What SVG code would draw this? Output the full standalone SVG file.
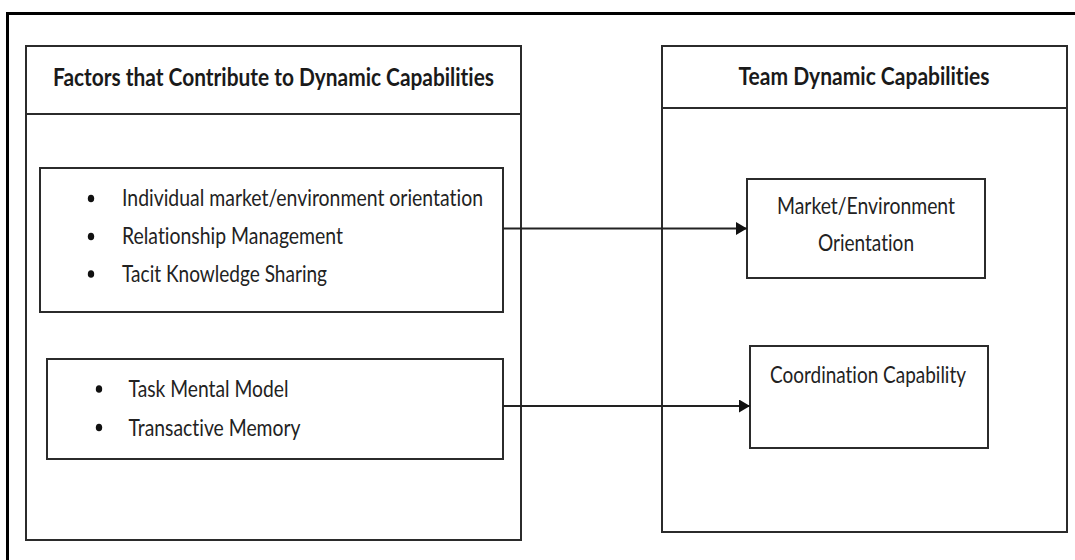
<svg xmlns="http://www.w3.org/2000/svg" width="1075" height="560" viewBox="0 0 1075 560">
  <style>
    .frame { fill: none; stroke: #000; stroke-width: 3; }
    .box { fill: #fff; stroke: #2b2b2b; stroke-width: 2; }
    .rule { stroke: #2b2b2b; stroke-width: 2; }
    .head { font-family: Lato, "Open Sans", sans-serif; font-weight: bold; font-size: 24px; fill: #1a1a1a; font-variant-ligatures: none; }
    .txt { font-family: Lato, "Open Sans", sans-serif; font-size: 22.5px; fill: #222; font-variant-ligatures: none; }
    .dot { fill: #111; }
    .link { fill: none; stroke: #222; stroke-width: 2; marker-end: url(#arrow); }
  </style>
  <defs>
    <marker id="arrow" markerWidth="12" markerHeight="14" refX="11" refY="6.5" orient="auto" markerUnits="userSpaceOnUse">
      <path d="M0,0 L11,6.5 L0,13 Z" fill="#111"/>
    </marker>
  </defs>

  <rect width="1075" height="560" fill="#fff"/>

  <!-- page frame (top and left edges) -->
  <path class="frame" d="M7.5,560 V13.5 H1075"/>

  <!-- left panel: contributing factors -->
  <g id="factors-panel">
    <rect class="box" x="26" y="46" width="495" height="494"/>
    <line class="rule" x1="26" y1="114" x2="521" y2="114"/>
    <text class="head" x="273.5" y="86" text-anchor="middle" textLength="441" lengthAdjust="spacingAndGlyphs">Factors that Contribute to Dynamic Capabilities</text>
  </g>

  <!-- right panel: team dynamic capabilities -->
  <g id="capabilities-panel">
    <rect class="box" x="662" y="46" width="405" height="486"/>
    <line class="rule" x1="662" y1="108" x2="1067" y2="108"/>
    <text class="head" x="864" y="85" text-anchor="middle" textLength="251" lengthAdjust="spacingAndGlyphs">Team Dynamic Capabilities</text>
  </g>

  <!-- factor group 1 -->
  <g id="factors-orientation">
    <rect class="box" x="40" y="168" width="463" height="144"/>
    <ellipse class="dot" cx="91" cy="198.5" rx="3.2" ry="3.8"/>
    <ellipse class="dot" cx="91" cy="236.5" rx="3.2" ry="3.8"/>
    <ellipse class="dot" cx="91" cy="274" rx="3.2" ry="3.8"/>
    <text class="txt" x="122" y="206" textLength="361" lengthAdjust="spacingAndGlyphs">Individual market/environment orientation</text>
    <text class="txt" x="122" y="244" textLength="221" lengthAdjust="spacingAndGlyphs">Relationship Management</text>
    <text class="txt" x="122" y="281.5" textLength="205" lengthAdjust="spacingAndGlyphs">Tacit Knowledge Sharing</text>
  </g>

  <!-- factor group 2 -->
  <g id="factors-coordination">
    <rect class="box" x="47" y="359" width="456" height="100"/>
    <ellipse class="dot" cx="99" cy="389" rx="3.2" ry="3.8"/>
    <ellipse class="dot" cx="99" cy="427.5" rx="3.2" ry="3.8"/>
    <text class="txt" x="128.5" y="397" textLength="160" lengthAdjust="spacingAndGlyphs">Task Mental Model</text>
    <text class="txt" x="128.5" y="435.5" textLength="172" lengthAdjust="spacingAndGlyphs">Transactive Memory</text>
  </g>

  <!-- capability: market/environment orientation -->
  <g id="cap-market">
    <rect class="box" x="747" y="179" width="238" height="99"/>
    <text class="txt" x="866" y="214" text-anchor="middle" textLength="178" lengthAdjust="spacingAndGlyphs">Market/Environment</text>
    <text class="txt" x="866" y="251" text-anchor="middle" textLength="96" lengthAdjust="spacingAndGlyphs">Orientation</text>
  </g>

  <!-- capability: coordination -->
  <g id="cap-coordination">
    <rect class="box" x="750" y="346" width="238" height="102"/>
    <text class="txt" x="868" y="382.5" text-anchor="middle" textLength="196" lengthAdjust="spacingAndGlyphs">Coordination Capability</text>
  </g>

  <!-- connectors -->
  <g id="connectors">
    <line class="link" x1="503" y1="228.5" x2="747" y2="228.5"/>
    <line class="link" x1="503" y1="406" x2="750" y2="406"/>
  </g>
</svg>
